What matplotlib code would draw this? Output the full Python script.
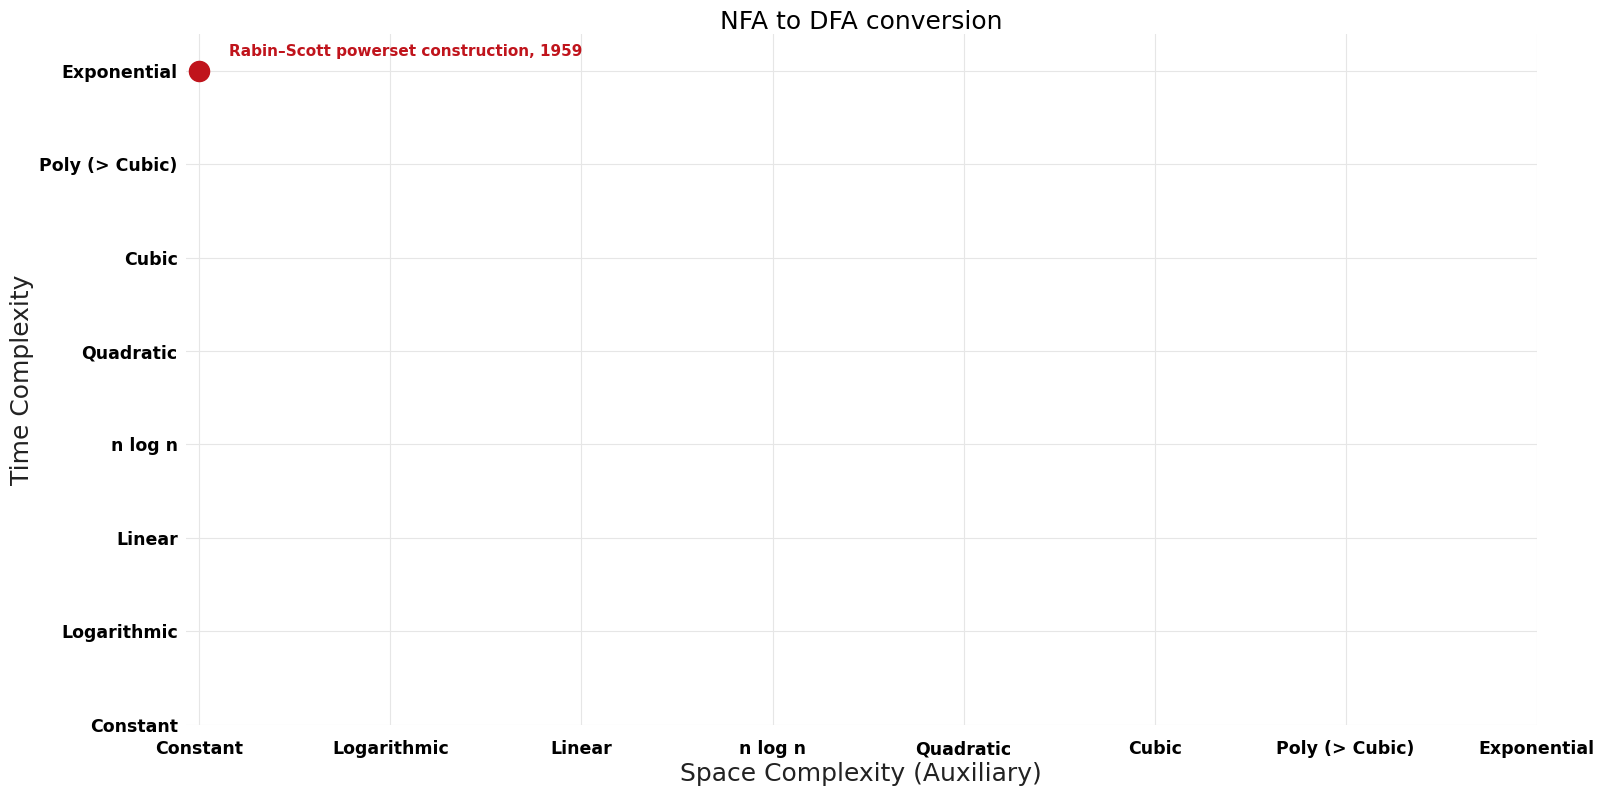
import matplotlib.pyplot as plt

# Complexity classes used on both axes
levels = ["Constant", "Logarithmic", "Linear", "n log n", "Quadratic",
          "Cubic", "Poly (> Cubic)", "Exponential"]

# Algorithms: (space index, time index, label)
algo_space = [0]
algo_time = [7]
algo_names = ["Rabin–Scott powerset construction, 1959"]

fig, ax = plt.subplots(figsize=(16.04, 7.94), dpi=100)

ax.scatter(algo_space, algo_time, s=210, color="#c0141c", zorder=3, clip_on=False)
for x, y, name in zip(algo_space, algo_time, algo_names):
    ax.annotate(name, (x, y), xytext=(21, 8), textcoords="offset points",
                color="#c0141c", fontsize=11, fontweight="bold", va="bottom")

ax.set_xticks(range(len(levels)))
ax.set_xticklabels(levels, fontsize=12.5, fontweight="bold")
ax.set_yticks(range(len(levels)))
ax.set_yticklabels(levels, fontsize=12.5, fontweight="bold")
ax.set_xlim(-0.07, 7)
ax.set_ylim(0, 7.39)

ax.grid(True, color="#e6e6e6", linewidth=0.8)
ax.set_axisbelow(True)
for s in ax.spines.values():
    s.set_visible(False)
ax.tick_params(axis="y", length=0, pad=6)
ax.tick_params(axis="x", length=0, pad=11)

ax.set_title("NFA to DFA conversion", fontsize=18, pad=4)
ax.set_xlabel("Space Complexity (Auxiliary)", fontsize=18, color="#222222", labelpad=3)
ax.set_ylabel("Time Complexity", fontsize=18, color="#222222")

fig.subplots_adjust(left=0.116, right=0.958, top=0.957, bottom=0.087)
fig.savefig("out.png")
